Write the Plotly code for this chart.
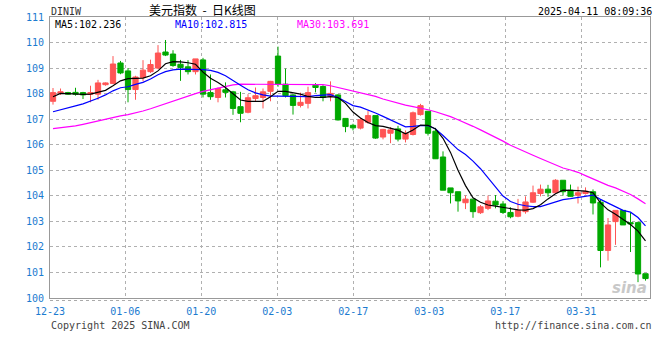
import plotly.graph_objects as go

# ---------------- data ----------------
tick_labels = ["12-23", "01-06", "01-20", "02-03", "02-17", "03-03", "03-17", "03-31"]
tick_pos = [-0.4, 9.64, 19.77, 29.91, 40.04, 50.17, 60.31, 70.44]

open_ = [107.70, 108.02, 108.04, 108.05, 108.04, 107.98, 107.98, 108.35, 108.40, 109.20,
         108.89, 108.16, 108.63, 108.86, 109.00, 109.63, 109.55, 109.15, 109.05, 108.86,
         109.32, 108.04, 107.85, 108.15, 108.07, 107.49, 107.27, 107.81, 107.85, 108.09,
         109.47, 108.37, 107.95, 107.54, 107.62, 108.33, 108.28, 107.89, 107.95, 107.03,
         106.76, 106.65, 106.88, 107.14, 106.30, 106.45, 106.62, 106.22, 106.40, 107.18,
         107.31, 106.53, 105.52, 104.31, 104.16, 103.73, 103.87, 103.34, 103.51, 103.79,
         103.68, 103.35, 103.20, 103.38, 103.75, 104.09, 104.26, 104.12, 104.61, 104.22,
         104.02, 104.09, 104.16, 103.75, 101.86, 102.99, 103.43, 102.95, 102.95, 100.95]
high = [108.22, 108.20, 108.07, 108.23, 108.07, 108.31, 108.54, 108.44, 109.47, 109.28,
        109.00, 108.70, 109.31, 109.33, 109.90, 110.10, 109.70, 109.32, 109.31, 109.36,
        109.40, 108.75, 108.24, 108.44, 108.11, 108.07, 107.98, 108.24, 108.20, 108.50,
        109.84, 108.98, 107.98, 108.04, 108.27, 108.41, 108.33, 108.48, 107.98, 107.03,
        106.82, 107.05, 107.33, 107.14, 106.62, 106.69, 106.74, 106.56, 107.30, 107.60,
        107.31, 106.66, 105.74, 104.31, 104.16, 104.01, 103.87, 103.64, 104.01, 104.03,
        103.79, 103.55, 103.88, 103.98, 104.40, 104.44, 104.43, 104.65, 104.61, 104.44,
        104.36, 104.33, 104.25, 103.85, 103.13, 103.43, 103.43, 103.34, 102.99, 100.95]
low = [107.57, 107.95, 107.95, 107.92, 107.79, 107.66, 107.76, 108.31, 108.37, 108.76,
       107.66, 107.76, 108.48, 108.81, 108.96, 109.47, 109.05, 108.50, 108.75, 108.75,
       107.85, 107.76, 107.66, 107.85, 107.17, 106.88, 107.23, 107.70, 107.42, 107.70,
       108.27, 107.85, 107.18, 107.46, 107.42, 108.05, 107.70, 107.70, 106.95, 106.49,
       106.56, 106.60, 106.82, 106.23, 106.21, 106.06, 106.13, 106.09, 106.36, 107.14,
       106.36, 105.44, 104.22, 103.70, 103.38, 103.48, 103.14, 103.29, 103.44, 103.51,
       103.29, 103.12, 103.16, 103.30, 103.72, 103.98, 103.96, 104.10, 104.01, 103.96,
       103.70, 104.05, 103.27, 101.20, 101.46, 102.08, 102.86, 101.80, 100.62, 100.68]
close = [108.04, 108.07, 107.98, 107.98, 107.95, 108.04, 108.42, 108.42, 109.16, 108.81,
         108.16, 108.65, 108.92, 109.14, 109.59, 109.51, 109.10, 109.02, 108.86, 109.36,
         107.98, 107.88, 108.20, 108.05, 107.42, 107.23, 107.84, 107.92, 108.07, 108.48,
         108.37, 107.92, 107.54, 107.66, 108.04, 108.24, 107.85, 108.01, 106.97, 106.71,
         106.66, 106.98, 107.14, 106.26, 106.60, 106.58, 106.22, 106.45, 107.25, 107.53,
         106.45, 105.45, 104.22, 104.12, 103.80, 103.87, 103.38, 103.57, 103.80, 103.64,
         103.35, 103.18, 103.44, 103.76, 104.12, 104.26, 104.12, 104.61, 104.16, 103.98,
         104.12, 104.18, 103.72, 101.86, 102.86, 103.43, 102.86, 102.90, 100.94, 100.76]

ma5 = [107.88, 108.01, 108.00, 107.98, 107.97, 107.98, 108.05, 108.13, 108.31, 108.50,
       108.59, 108.61, 108.61, 108.70, 108.89, 109.17, 109.25, 109.24, 109.21, 109.15,
       108.84, 108.60, 108.44, 108.24, 108.00, 107.75, 107.70, 107.70, 107.70, 107.88,
       108.09, 108.09, 108.04, 107.98, 107.89, 107.85, 107.85, 107.88, 107.85, 107.62,
       107.28, 107.05, 106.87, 106.75, 106.72, 106.66, 106.57, 106.43, 106.58, 106.77,
       106.76, 106.62, 106.25, 105.70, 105.00, 104.40, 103.92, 103.75, 103.64, 103.60,
       103.56, 103.50, 103.45, 103.44, 103.50, 103.65, 103.88, 104.08, 104.22, 104.22,
       104.20, 104.18, 104.12, 103.72, 103.45, 103.28, 103.07, 102.88, 102.62, 102.24]
ma10 = [107.29, 107.36, 107.43, 107.52, 107.60, 107.70, 107.82, 107.95, 108.11, 108.23,
        108.27, 108.36, 108.44, 108.57, 108.74, 108.86, 108.93, 108.96, 108.96, 108.96,
        108.94, 108.91, 108.83, 108.70, 108.53, 108.33, 108.15, 108.03, 107.95, 107.90,
        107.90, 107.90, 107.89, 107.88, 107.88, 107.92, 107.95, 107.96, 107.85, 107.70,
        107.53, 107.47, 107.37, 107.24, 107.11, 106.98, 106.85, 106.70, 106.72, 106.75,
        106.75, 106.62, 106.36, 106.08, 105.81, 105.62, 105.36, 105.06, 104.71, 104.35,
        103.99, 103.78, 103.67, 103.61, 103.58, 103.58, 103.67, 103.77, 103.85, 103.89,
        103.93, 103.99, 104.03, 103.86, 103.72, 103.58, 103.43, 103.36, 103.15, 102.82]
ma30 = [106.63, 106.66, 106.69, 106.74, 106.80, 106.87, 106.94, 107.00, 107.06, 107.13,
        107.18, 107.24, 107.32, 107.41, 107.51, 107.62, 107.70, 107.79, 107.90, 108.00,
        108.09, 108.16, 108.22, 108.29, 108.34, 108.37, 108.37, 108.37, 108.37, 108.37,
        108.37, 108.37, 108.37, 108.37, 108.37, 108.37, 108.35, 108.31, 108.24, 108.18,
        108.11, 108.04, 107.96, 107.89, 107.79, 107.70, 107.62, 107.55, 107.49, 107.44,
        107.37, 107.29, 107.20, 107.10, 106.98, 106.86, 106.72, 106.58, 106.44, 106.30,
        106.14, 105.98, 105.84, 105.72, 105.59, 105.46, 105.33, 105.20, 105.09, 105.01,
        104.92, 104.79, 104.66, 104.53, 104.41, 104.31, 104.19, 104.05, 103.88, 103.69]

y_ticks = list(range(100, 112))
x_idx = list(range(len(close)))

# ---------------- styling ----------------
RED = "#ff5555"
GREEN = "#00a800"
AXIS_BLUE = "#1b7bd0"
GRID = "#b0b0b0"
MONO = "DejaVu Sans Mono, Liberation Mono, monospace"

fig = go.Figure()
fig.add_trace(go.Candlestick(
    x=x_idx, open=open_, high=high, low=low, close=close,
    increasing=dict(line=dict(color=RED, width=1), fillcolor=RED),
    decreasing=dict(line=dict(color=GREEN, width=1), fillcolor=GREEN),
    whiskerwidth=0, hoverinfo="skip", showlegend=False,
))
fig.add_trace(go.Scatter(x=x_idx, y=ma30, mode="lines",
                         line=dict(color="#ff00ff", width=1.2), hoverinfo="skip", showlegend=False))
fig.add_trace(go.Scatter(x=x_idx, y=ma10, mode="lines",
                         line=dict(color="#0000ff", width=1.2), hoverinfo="skip", showlegend=False))
fig.add_trace(go.Scatter(x=x_idx, y=ma5, mode="lines",
                         line=dict(color="#000000", width=1.2), hoverinfo="skip", showlegend=False))

L, R, T, B = 50, 650, 17, 298
W, H = R - L, B - T


def px(x):
    return (x - L) / W


def py(y):
    return (B - y) / H


ann = []
ann.append(dict(text="DINIW", x=px(49), y=py(11), xanchor="left", yanchor="middle",
                font=dict(family=MONO, size=10, color="#333333")))
ann.append(dict(text="美元指数&nbsp;&nbsp;-&nbsp;&nbsp;日K线图", x=px(202), y=py(10),
                xanchor="center", yanchor="middle", borderpad=0,
                font=dict(family="Noto Sans CJK SC", size=12, color="#000000")))
ann.append(dict(text="2025-04-11 08:09:36", x=px(654), y=py(11), xanchor="right", yanchor="middle",
                font=dict(family=MONO, size=10, color="#000000")))
ann.append(dict(text="MA5:102.236", x=px(53), y=py(24), xanchor="left", yanchor="middle",
                font=dict(family=MONO, size=10, color="#000000")))
ann.append(dict(text="MA10:102.815", x=px(174), y=py(24), xanchor="left", yanchor="middle",
                borderpad=0, font=dict(family=MONO, size=10, color="#0000ff")))
ann.append(dict(text="MA30:103.691", x=px(295), y=py(24), xanchor="left", yanchor="middle",
                font=dict(family=MONO, size=10, color="#ff00ff")))
ann.append(dict(text="Copyright 2025 SINA.COM", x=px(49), y=py(325), xanchor="left", yanchor="middle",
                font=dict(family=MONO, size=10, color="#444444")))
ann.append(dict(text="http://finance.sina.com.cn", x=px(654), y=py(325), xanchor="right", yanchor="middle",
                font=dict(family=MONO, size=10, color="#444444")))
ann.append(dict(text="<b><i>sina</i></b>", x=px(629), y=py(288), xanchor="center", yanchor="middle",
                font=dict(family="DejaVu Sans", size=15, color="#c8c8c8")))
for a in ann:
    a.update(xref="paper", yref="paper", showarrow=False)

axis_common = dict(
    showgrid=True, gridcolor=GRID, griddash="dot", gridwidth=1,
    showline=True, linecolor="#999999", linewidth=1, mirror=True,
    ticks="", zeroline=False, fixedrange=True, automargin=False,
    tickfont=dict(family=MONO, size=10, color=AXIS_BLUE),
)

fig.update_layout(
    width=660, height=360,
    margin=dict(l=L, r=660 - R, t=T, b=360 - B, autoexpand=False),
    paper_bgcolor="white", plot_bgcolor="white",
    boxgap=0.3, boxgroupgap=0,
    annotations=ann,
    xaxis=dict(range=[-0.4, 79.6], tickmode="array", tickvals=tick_pos, ticktext=tick_labels,
               rangeslider=dict(visible=False), ticklabelstandoff=4, **axis_common),
    yaxis=dict(range=[100, 111], tickmode="array", tickvals=y_ticks,
               ticktext=[str(v) for v in y_ticks], ticklabelstandoff=3, **axis_common),
    shapes=[dict(type="line", xref="paper", yref="paper", x0=0, x1=1,
                 y0=py(300.5), y1=py(300.5), line=dict(color="#aaaaaa", width=1, dash="dot"))],
    hovermode=False,
)

fig.write_html("out.html", config=dict(displayModeBar=False, staticPlot=True),
               post_script="document.body.style.margin='0';document.body.style.overflow='hidden';")
